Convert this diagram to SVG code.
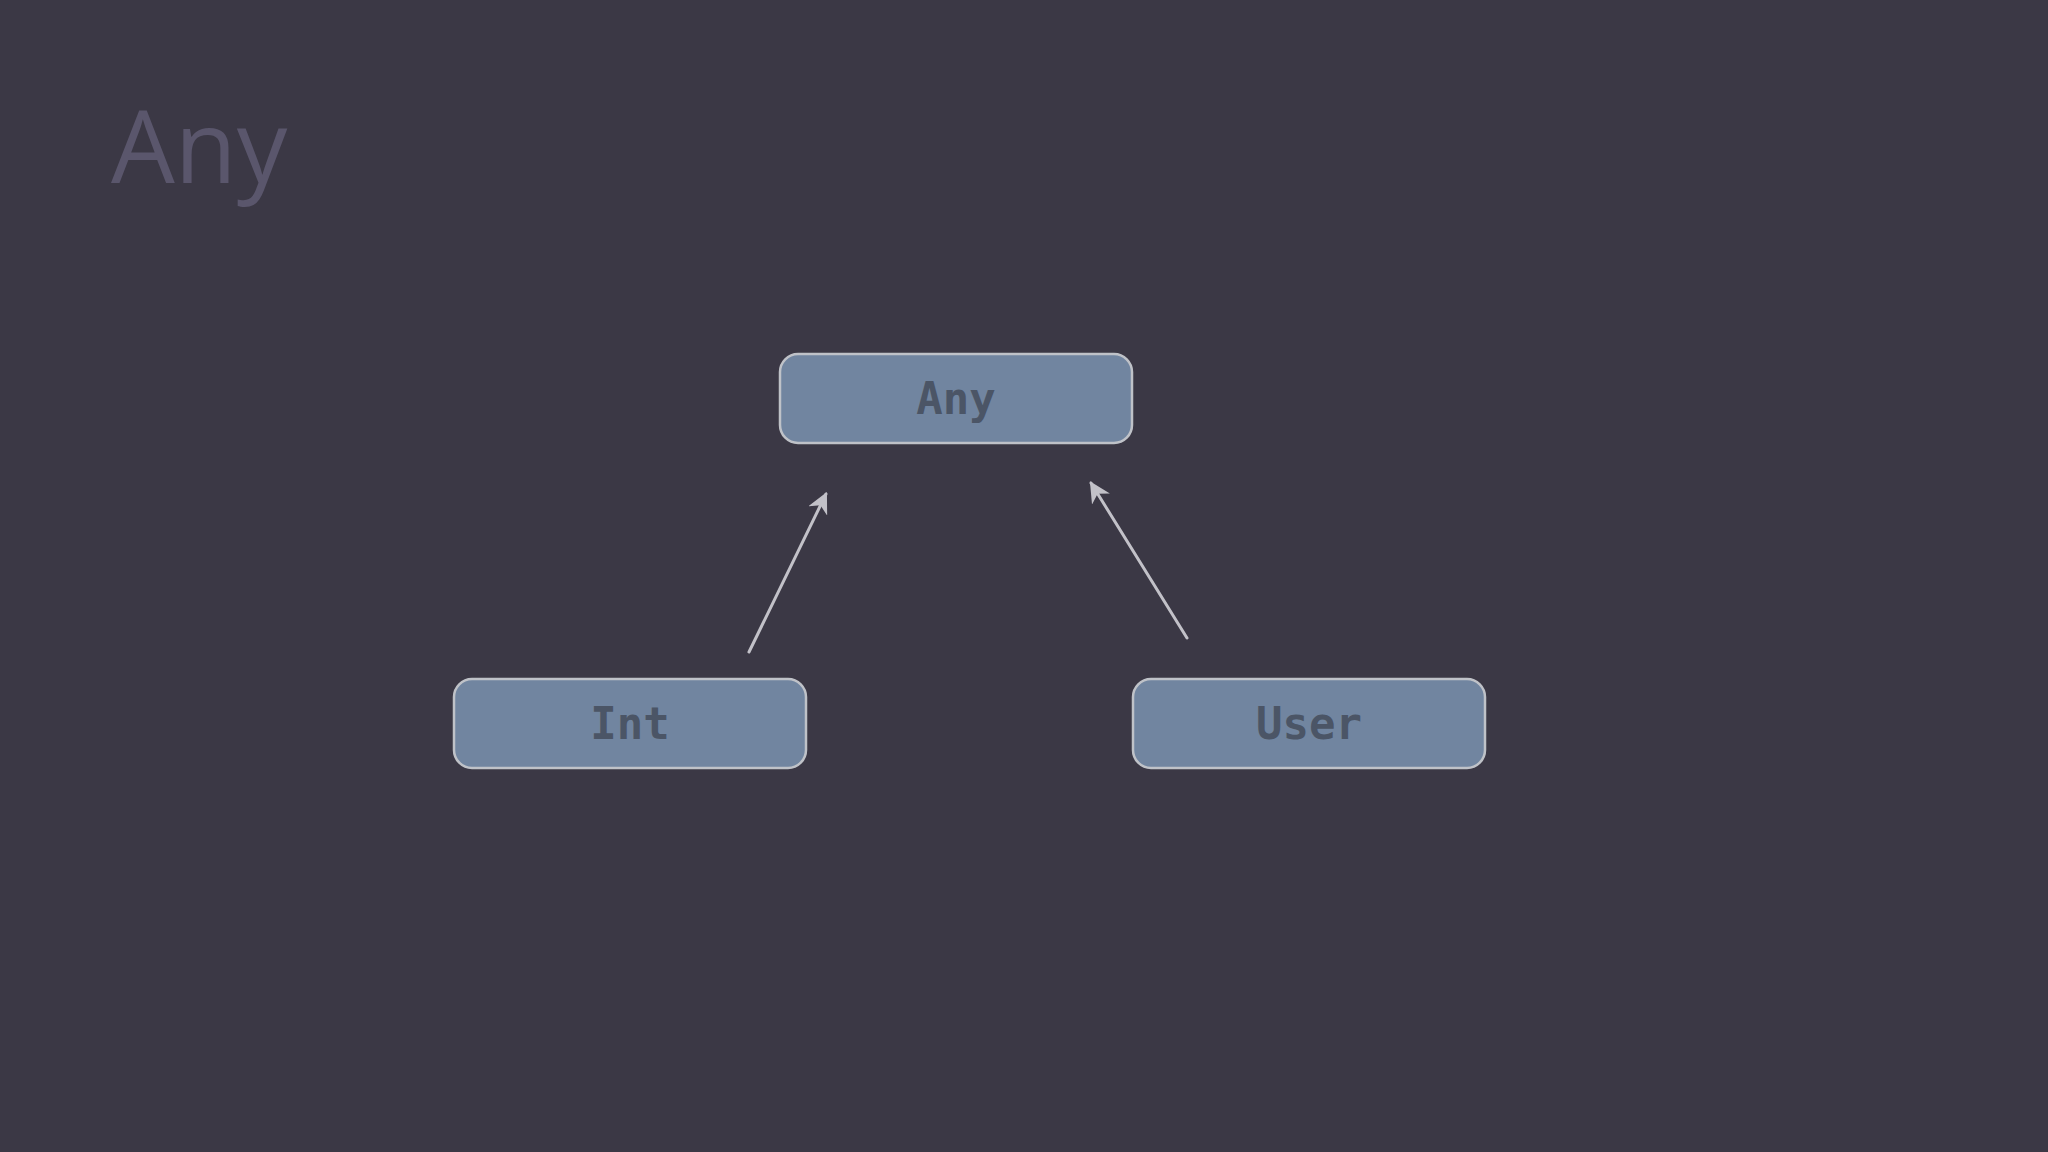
<svg xmlns="http://www.w3.org/2000/svg" width="2048" height="1152" viewBox="0 0 2048 1152">
<defs>
<style>
.box{fill:#7185a0;stroke:#bfc2c8;stroke-width:2.5}
.lbl{font-family:"DejaVu Sans Mono",monospace;font-weight:bold;font-size:44px;fill:#4b5566;text-anchor:middle}
.edge{stroke:#c2c1c8;stroke-width:3;fill:none;stroke-linecap:round}
</style>
<marker id="ah" viewBox="0 0 10 10" refX="9" refY="5" markerWidth="7" markerHeight="7" markerUnits="strokeWidth" orient="auto">
<path d="M0,0 L10,5 L0,10 L3,5 Z" fill="#c2c1c8"/>
</marker>
</defs>
<rect width="2048" height="1152" fill="#3b3845"/>
<text x="111" y="183" font-family="'Open Sans','Noto Sans',sans-serif" font-size="101" fill="#5a566c">Any</text>
<g id="any"><rect class="box" x="780" y="354" width="352" height="89" rx="18"/><text class="lbl" x="956" y="414">Any</text></g>
<g id="int"><rect class="box" x="454" y="679" width="352" height="89" rx="18"/><text class="lbl" x="630" y="739">Int</text></g>
<g id="user"><rect class="box" x="1133" y="679" width="352" height="89" rx="18"/><text class="lbl" x="1309" y="739">User</text></g>
<g id="connectors">
<line class="edge" x1="749" y1="652" x2="826" y2="494" marker-end="url(#ah)"/>
<line class="edge" x1="1187" y1="638" x2="1091" y2="483" marker-end="url(#ah)"/>
</g>
</svg>
